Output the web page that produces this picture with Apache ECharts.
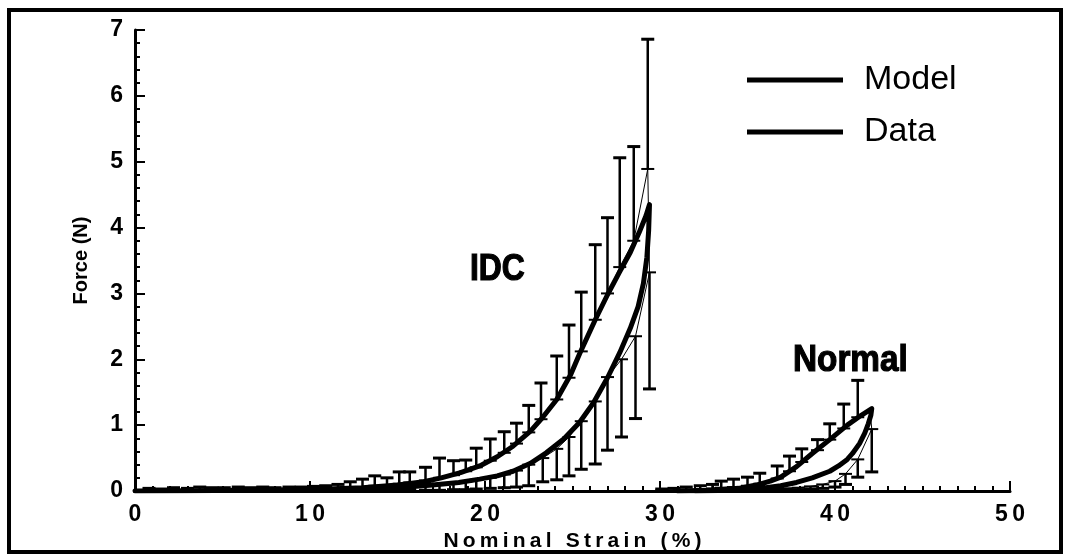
<!DOCTYPE html>
<html>
<head>
<meta charset="utf-8">
<script src="https://cdn.jsdelivr.net/npm/echarts@6/dist/echarts.min.js"></script>
<style>
  html, body { margin: 0; padding: 0; background: #fff; }
  #chart { width: 1067px; height: 557px; }
</style>
</head>
<body>
<div id="chart"></div>
<script>
// Model curves: loading and unloading branches, [strain %, force N]
const idcModelLoad = [[0,0.0],[3,0.004],[6,0.01],[9,0.02],[11,0.03],[13,0.05],[15,0.09],[16.5,0.14],[17.5,0.2],[18.6,0.28],[19.7,0.38],[20.7,0.52],[21.6,0.68],[22.6,0.91],[23.3,1.12],[24.1,1.39],[24.9,1.77],[25.4,2.08],[26.3,2.6],[27.0,2.98],[27.7,3.33],[28.3,3.62],[28.8,3.92],[29.2,4.18],[29.4,4.35]];
const idcModelUnload = [[29.4,4.35],[29.35,3.95],[29.25,3.55],[29.05,3.15],[28.75,2.8],[28.3,2.47],[27.7,2.1],[27.0,1.72],[26.2,1.34],[25.4,1.04],[24.5,0.79],[23.5,0.58],[22.6,0.42],[21.6,0.3],[20.7,0.23],[19.7,0.18],[18.5,0.13],[17,0.09],[15,0.05],[13,0.03],[11,0.015]];
const normalModelLoad = [[31,0],[33,0.01],[34.5,0.04],[35.5,0.09],[36.3,0.15],[36.9,0.21],[37.8,0.37],[38.7,0.57],[39.7,0.78],[40.7,1.0],[41.5,1.15],[42.1,1.25]];
const normalModelUnload = [[42.1,1.25],[42.05,1.15],[41.9,1.02],[41.7,0.88],[41.4,0.72],[41.0,0.57],[40.7,0.48],[40.2,0.38],[39.7,0.3],[38.7,0.2],[37.8,0.13],[36.9,0.08],[35.5,0.03],[34,0.01],[32,0]];

// Measured data: mean force and the end of the error bar (upward on loading, downward on unloading)
const idcLoadStrain = [0.8,1.5,2.2,3.0,3.7,4.4,5.1,5.9,6.6,7.3,8.0,8.8,9.5,10.2,10.9,11.6,12.3,13.0,13.7,14.4,15.1,15.7,16.6,17.4,18.2,18.9,19.5,20.3,21.1,21.8,22.5,23.2,24.1,24.8,25.5,26.3,27.0,27.7,28.5,29.3];
const idcLoadMean   = [0.01,0.01,0.01,0.01,0.01,0.01,0.02,0.02,0.02,0.02,0.02,0.02,0.03,0.03,0.03,0.04,0.05,0.06,0.08,0.09,0.11,0.13,0.16,0.2,0.24,0.3,0.36,0.46,0.58,0.72,0.89,1.09,1.39,1.72,2.12,2.6,3.0,3.4,3.8,4.89];
const idcLoadTop    = [0.04,0.03,0.05,0.04,0.06,0.05,0.05,0.06,0.05,0.06,0.05,0.06,0.06,0.07,0.08,0.1,0.14,0.18,0.23,0.2,0.29,0.29,0.36,0.5,0.46,0.47,0.65,0.79,0.9,1.03,1.3,1.64,2.05,2.52,3.02,3.74,4.15,5.06,5.23,6.86];

const idcUnloadStrain = [29.4,28.6,27.8,27.0,26.3,25.5,24.8,24.1,23.3,22.5,21.8,21.1,20.3,19.5,18.9,18.2,17.4,16.6,15.7,15.1,14.4,13.7,13.0,12.3];
const idcUnloadMean   = [3.32,2.35,2.0,1.73,1.36,1.06,0.82,0.64,0.5,0.4,0.31,0.25,0.2,0.17,0.14,0.12,0.1,0.08,0.07,0.06,0.05,0.04,0.03,0.03];
const idcUnloadLow    = [1.55,1.1,0.82,0.62,0.41,0.33,0.23,0.17,0.14,0.08,0.06,0.05,0.04,0.03,0.02,0.02,0.01,0.01,0.01,0.01,0,0,0,0];

const normalLoadStrain = [30.1,30.8,31.5,32.3,33.0,33.5,34.2,35.0,35.7,36.7,37.4,38.1,39.0,39.7,40.5,41.3,42.0];
const normalLoadMean   = [0.01,0.01,0.02,0.03,0.04,0.05,0.06,0.08,0.11,0.19,0.3,0.44,0.62,0.78,0.95,1.12,1.22];
const normalLoadTop    = [0.03,0.04,0.06,0.08,0.1,0.15,0.18,0.21,0.27,0.38,0.53,0.64,0.78,1.02,1.32,1.68,1.22];

const normalUnloadStrain = [42.1,41.3,40.6,40.0,39.3,38.6,37.9,37.2,36.5,35.8];
const normalUnloadMean   = [0.94,0.48,0.26,0.15,0.1,0.07,0.05,0.04,0.03,0.02];
const normalUnloadLow    = [0.29,0.21,0.1,0.06,0.04,0.03,0.02,0.01,0.01,0];

const xTicks = [0, 10, 20, 30, 40, 50];
const yTicks = [0, 1, 2, 3, 4, 5, 6, 7];
const xTitle = 'Nominal Strain (%)';
const yTitle = 'Force (N)';

const FONT = '"Liberation Sans", Arial, Helvetica, sans-serif';
const spaced = s => String(s).split('').join('\u2009');

const zip = (xs, ys) => xs.map((x, i) => [x, ys[i]]);
const bars = (xs, a, b) => xs.map((x, i) => [x, a[i], b[i]]);

function renderErrorBar(params, api) {
  const x = api.value(0), a = api.value(1), b = api.value(2);
  if (a === b) return null;
  const p1 = api.coord([x, a]);
  const p2 = api.coord([x, b]);
  const hw = 6.5;
  return {
    type: 'group',
    children: [
      { type: 'line', shape: { x1: p1[0], y1: p1[1], x2: p2[0], y2: p2[1] }, style: { stroke: '#000', lineWidth: 2.5 } },
      { type: 'line', shape: { x1: p2[0] - hw, y1: p2[1], x2: p2[0] + hw, y2: p2[1] }, style: { stroke: '#000', lineWidth: 3 } },
      { type: 'line', shape: { x1: p1[0] - hw, y1: p1[1], x2: p1[0] + hw, y2: p1[1] }, style: { stroke: '#000', lineWidth: 2 } }
    ]
  };
}

const modelLine = { color: '#000', width: 5, join: 'round', cap: 'round' };
const dataLine = { color: '#000', width: 1 };
const black = { color: '#000' };

const chart = echarts.init(document.getElementById('chart'), null, { renderer: 'canvas' });

chart.setOption({
  animation: false,
  backgroundColor: '#fff',
  color: ['#000'],
  grid: { left: 135, right: 57, top: 30, bottom: 65, containLabel: false },
  legend: {
    left: 742, top: 58, orient: 'vertical',
    icon: 'rect', itemWidth: 96, itemHeight: 5, itemGap: 18,
    data: ['Model', 'Data'],
    selectedMode: false,
    itemStyle: { color: '#000' },
    textStyle: { fontFamily: FONT, fontSize: 34, color: '#000', lineHeight: 34, padding: [0, 0, 0, 16] }
  },
  xAxis: {
    type: 'value', min: xTicks[0], max: xTicks[xTicks.length - 1], interval: 10,
    name: spaced(xTitle), nameLocation: 'middle', nameGap: 40,
    nameTextStyle: { fontFamily: FONT, fontWeight: 'bold', fontSize: 21, color: '#000' },
    axisLine: { lineStyle: { color: '#000', width: 3 } },
    axisTick: { inside: true, length: 10, lineStyle: { color: '#000', width: 2 } },
    minorTick: { show: true, splitNumber: 10, length: 5, lineStyle: { color: '#000', width: 2 } },
    splitLine: { show: false },
    axisLabel: { formatter: v => spaced(v), fontFamily: FONT, fontWeight: 'bold', fontSize: 23, color: '#000', margin: 12 }
  },
  yAxis: {
    type: 'value', min: yTicks[0], max: yTicks[yTicks.length - 1], interval: 1,
    name: yTitle, nameLocation: 'middle', nameGap: 44, nameRotate: 90,
    nameTextStyle: { fontFamily: FONT, fontWeight: 'bold', fontSize: 20, color: '#000' },
    axisLine: { lineStyle: { color: '#000', width: 3 } },
    axisTick: { inside: true, length: 10, lineStyle: { color: '#000', width: 2 } },
    minorTick: { show: true, splitNumber: 5, length: 5, lineStyle: { color: '#000', width: 2 } },
    splitLine: { show: false },
    axisLabel: { fontFamily: FONT, fontWeight: 'bold', fontSize: 23, color: '#000', margin: 12 }
  },
  graphic: [
    { type: 'rect', shape: { x: 9, y: 10, width: 1052, height: 542 }, style: { fill: 'none', stroke: '#000', lineWidth: 4 }, silent: true },
    { type: 'text', x: 470, y: 251, scaleX: 0.86, style: { text: 'IDC', font: 'bold 37px ' + FONT, fill: '#000', stroke: '#000', lineWidth: 1.2 } },
    { type: 'text', x: 793, y: 342, scaleX: 0.9, style: { text: 'Normal', font: 'bold 37px ' + FONT, fill: '#000', stroke: '#000', lineWidth: 1.2 } }
  ],
  series: [
    { name: 'Model', type: 'line', data: idcModelLoad.concat(idcModelUnload), showSymbol: false, itemStyle: black, lineStyle: modelLine, z: 3 },
    { name: 'Model', type: 'line', data: normalModelLoad.concat(normalModelUnload), showSymbol: false, itemStyle: black, lineStyle: modelLine, z: 3 },
    { name: 'Data', type: 'line', data: zip(idcLoadStrain, idcLoadMean).concat(zip(idcUnloadStrain, idcUnloadMean)), showSymbol: false, itemStyle: black, lineStyle: dataLine, z: 4 },
    { name: 'Data', type: 'line', data: zip(normalLoadStrain, normalLoadMean).concat(zip(normalUnloadStrain, normalUnloadMean)), showSymbol: false, itemStyle: black, lineStyle: dataLine, z: 4 },
    {
      name: 'Data', type: 'custom', renderItem: renderErrorBar, z: 4, itemStyle: black,
      encode: { x: 0, y: [1, 2] },
      data: bars(idcLoadStrain, idcLoadMean, idcLoadTop)
        .concat(bars(idcUnloadStrain, idcUnloadMean, idcUnloadLow))
        .concat(bars(normalLoadStrain, normalLoadMean, normalLoadTop))
        .concat(bars(normalUnloadStrain, normalUnloadMean, normalUnloadLow))
    }
  ]
});
</script>
</body>
</html>
